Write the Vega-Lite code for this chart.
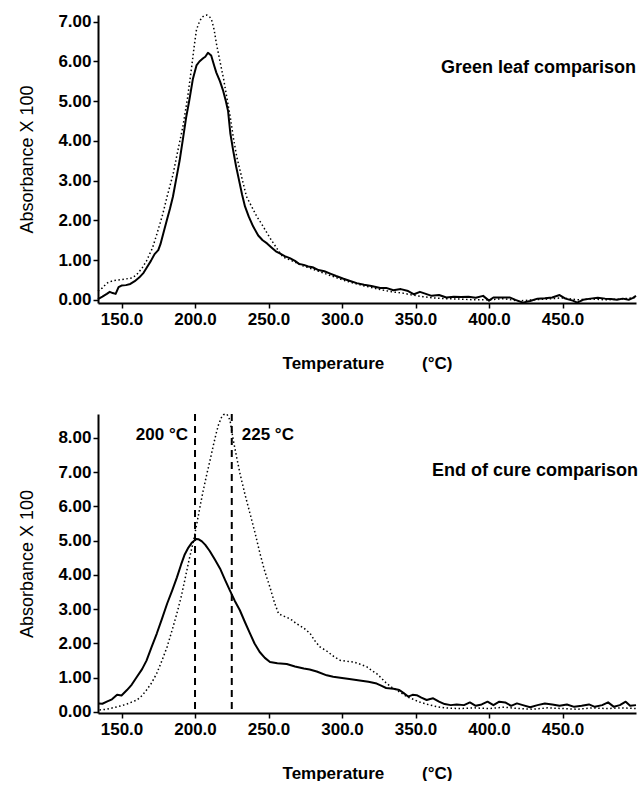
{
  "$schema": "https://vega.github.io/schema/vega-lite/v6.json",
  "background": "white",
  "padding": {"left": 18, "top": 12, "right": 2, "bottom": 0},
  "spacing": 40,
  "config": {
    "font": "Liberation Sans",
    "view": {"stroke": null},
    "text": {"font": "Liberation Sans", "fontWeight": "bold", "fill": "black"},
    "axis": {
      "grid": false,
      "domainColor": "black",
      "domainWidth": 2,
      "tickColor": "black",
      "tickWidth": 1.5,
      "labelColor": "black",
      "titleColor": "black",
      "labelFont": "Liberation Sans",
      "titleFont": "Liberation Sans",
      "labelFontSize": 17,
      "labelFontWeight": "bold",
      "labelOverlap": false
    }
  },
  "datasets": {
    "green": [
      {"trace": "A", "temperature": 134, "absorbance": 0.02},
      {"trace": "A", "temperature": 137, "absorbance": 0.08},
      {"trace": "A", "temperature": 140, "absorbance": 0.15},
      {"trace": "A", "temperature": 142, "absorbance": 0.2},
      {"trace": "A", "temperature": 144, "absorbance": 0.17},
      {"trace": "A", "temperature": 146, "absorbance": 0.15},
      {"trace": "A", "temperature": 148, "absorbance": 0.32},
      {"trace": "A", "temperature": 150, "absorbance": 0.36},
      {"trace": "A", "temperature": 153, "absorbance": 0.37},
      {"trace": "A", "temperature": 156, "absorbance": 0.4},
      {"trace": "A", "temperature": 159, "absorbance": 0.47},
      {"trace": "A", "temperature": 162, "absorbance": 0.56},
      {"trace": "A", "temperature": 165, "absorbance": 0.68},
      {"trace": "A", "temperature": 167, "absorbance": 0.8},
      {"trace": "A", "temperature": 170, "absorbance": 0.98},
      {"trace": "A", "temperature": 172.5, "absorbance": 1.15},
      {"trace": "A", "temperature": 175, "absorbance": 1.25},
      {"trace": "A", "temperature": 176.5, "absorbance": 1.4},
      {"trace": "A", "temperature": 179, "absorbance": 1.75},
      {"trace": "A", "temperature": 181, "absorbance": 2.03},
      {"trace": "A", "temperature": 183, "absorbance": 2.3},
      {"trace": "A", "temperature": 185, "absorbance": 2.6},
      {"trace": "A", "temperature": 187, "absorbance": 3.0},
      {"trace": "A", "temperature": 189.5, "absorbance": 3.5},
      {"trace": "A", "temperature": 192, "absorbance": 4.1},
      {"trace": "A", "temperature": 194, "absorbance": 4.6},
      {"trace": "A", "temperature": 196, "absorbance": 5.0},
      {"trace": "A", "temperature": 198.5, "absorbance": 5.55},
      {"trace": "A", "temperature": 201, "absorbance": 5.9},
      {"trace": "A", "temperature": 203, "absorbance": 6.0},
      {"trace": "A", "temperature": 205.5, "absorbance": 6.08},
      {"trace": "A", "temperature": 207, "absorbance": 6.12},
      {"trace": "A", "temperature": 208.8, "absorbance": 6.22},
      {"trace": "A", "temperature": 211, "absorbance": 6.15},
      {"trace": "A", "temperature": 213, "absorbance": 5.9},
      {"trace": "A", "temperature": 214.5, "absorbance": 5.72},
      {"trace": "A", "temperature": 217, "absorbance": 5.5},
      {"trace": "A", "temperature": 219, "absorbance": 5.28},
      {"trace": "A", "temperature": 221, "absorbance": 5.0},
      {"trace": "A", "temperature": 222.5, "absorbance": 4.75},
      {"trace": "A", "temperature": 224, "absorbance": 4.2},
      {"trace": "A", "temperature": 226, "absorbance": 3.75},
      {"trace": "A", "temperature": 228, "absorbance": 3.35},
      {"trace": "A", "temperature": 230, "absorbance": 3.0},
      {"trace": "A", "temperature": 232, "absorbance": 2.65},
      {"trace": "A", "temperature": 234, "absorbance": 2.35},
      {"trace": "A", "temperature": 236.5, "absorbance": 2.1},
      {"trace": "A", "temperature": 239.5, "absorbance": 1.85},
      {"trace": "A", "temperature": 243, "absorbance": 1.62},
      {"trace": "A", "temperature": 246, "absorbance": 1.5},
      {"trace": "A", "temperature": 249, "absorbance": 1.42},
      {"trace": "A", "temperature": 252, "absorbance": 1.32},
      {"trace": "A", "temperature": 255, "absorbance": 1.22},
      {"trace": "A", "temperature": 258, "absorbance": 1.16},
      {"trace": "A", "temperature": 261, "absorbance": 1.1},
      {"trace": "A", "temperature": 264.5, "absorbance": 1.05},
      {"trace": "A", "temperature": 268, "absorbance": 0.98},
      {"trace": "A", "temperature": 271, "absorbance": 0.9},
      {"trace": "A", "temperature": 274, "absorbance": 0.88},
      {"trace": "A", "temperature": 277, "absorbance": 0.84},
      {"trace": "A", "temperature": 280, "absorbance": 0.82},
      {"trace": "A", "temperature": 284, "absorbance": 0.75},
      {"trace": "A", "temperature": 288, "absorbance": 0.72},
      {"trace": "A", "temperature": 292, "absorbance": 0.66},
      {"trace": "A", "temperature": 296, "absorbance": 0.6},
      {"trace": "A", "temperature": 301, "absorbance": 0.53},
      {"trace": "A", "temperature": 305, "absorbance": 0.48},
      {"trace": "A", "temperature": 310, "absorbance": 0.42},
      {"trace": "A", "temperature": 315, "absorbance": 0.38},
      {"trace": "A", "temperature": 320, "absorbance": 0.35},
      {"trace": "A", "temperature": 326, "absorbance": 0.3},
      {"trace": "A", "temperature": 330, "absorbance": 0.3},
      {"trace": "A", "temperature": 335, "absorbance": 0.24},
      {"trace": "A", "temperature": 340, "absorbance": 0.27},
      {"trace": "A", "temperature": 345, "absorbance": 0.22},
      {"trace": "A", "temperature": 349, "absorbance": 0.14},
      {"trace": "A", "temperature": 353, "absorbance": 0.2},
      {"trace": "A", "temperature": 357, "absorbance": 0.15},
      {"trace": "A", "temperature": 361, "absorbance": 0.1},
      {"trace": "A", "temperature": 366, "absorbance": 0.12},
      {"trace": "A", "temperature": 371, "absorbance": 0.06},
      {"trace": "A", "temperature": 376, "absorbance": 0.08},
      {"trace": "A", "temperature": 381, "absorbance": 0.07},
      {"trace": "A", "temperature": 386, "absorbance": 0.08},
      {"trace": "A", "temperature": 391, "absorbance": 0.05},
      {"trace": "A", "temperature": 396, "absorbance": 0.1},
      {"trace": "A", "temperature": 400, "absorbance": -0.02},
      {"trace": "A", "temperature": 403, "absorbance": 0.06},
      {"trace": "A", "temperature": 408, "absorbance": 0.06},
      {"trace": "A", "temperature": 414, "absorbance": 0.06},
      {"trace": "A", "temperature": 418, "absorbance": 0.0},
      {"trace": "A", "temperature": 423, "absorbance": -0.07},
      {"trace": "A", "temperature": 428, "absorbance": -0.03},
      {"trace": "A", "temperature": 433, "absorbance": 0.03},
      {"trace": "A", "temperature": 438, "absorbance": 0.04},
      {"trace": "A", "temperature": 443, "absorbance": 0.06},
      {"trace": "A", "temperature": 448, "absorbance": 0.12},
      {"trace": "A", "temperature": 452, "absorbance": 0.03},
      {"trace": "A", "temperature": 457, "absorbance": -0.02},
      {"trace": "A", "temperature": 460, "absorbance": -0.07},
      {"trace": "A", "temperature": 464, "absorbance": 0.0},
      {"trace": "A", "temperature": 469, "absorbance": 0.03},
      {"trace": "A", "temperature": 474, "absorbance": 0.05},
      {"trace": "A", "temperature": 479, "absorbance": 0.03},
      {"trace": "A", "temperature": 483, "absorbance": 0.02},
      {"trace": "A", "temperature": 487, "absorbance": 0.0},
      {"trace": "A", "temperature": 491, "absorbance": 0.03},
      {"trace": "A", "temperature": 495, "absorbance": 0.0},
      {"trace": "A", "temperature": 498, "absorbance": 0.05},
      {"trace": "A", "temperature": 500, "absorbance": 0.1},
      {"trace": "B", "temperature": 134, "absorbance": 0.22},
      {"trace": "B", "temperature": 137, "absorbance": 0.3},
      {"trace": "B", "temperature": 140, "absorbance": 0.42},
      {"trace": "B", "temperature": 144, "absorbance": 0.48},
      {"trace": "B", "temperature": 148, "absorbance": 0.5},
      {"trace": "B", "temperature": 152, "absorbance": 0.52},
      {"trace": "B", "temperature": 157, "absorbance": 0.55},
      {"trace": "B", "temperature": 160, "absorbance": 0.62},
      {"trace": "B", "temperature": 164, "absorbance": 0.8},
      {"trace": "B", "temperature": 167, "absorbance": 0.98},
      {"trace": "B", "temperature": 171, "absorbance": 1.3},
      {"trace": "B", "temperature": 174, "absorbance": 1.65},
      {"trace": "B", "temperature": 178, "absorbance": 2.15},
      {"trace": "B", "temperature": 181, "absorbance": 2.6},
      {"trace": "B", "temperature": 185, "absorbance": 3.15},
      {"trace": "B", "temperature": 188, "absorbance": 3.7},
      {"trace": "B", "temperature": 191.7, "absorbance": 4.35},
      {"trace": "B", "temperature": 195, "absorbance": 5.1},
      {"trace": "B", "temperature": 197.7, "absorbance": 5.86},
      {"trace": "B", "temperature": 199.5, "absorbance": 6.4},
      {"trace": "B", "temperature": 201, "absorbance": 6.8},
      {"trace": "B", "temperature": 203, "absorbance": 7.0},
      {"trace": "B", "temperature": 204.5, "absorbance": 7.1},
      {"trace": "B", "temperature": 206, "absorbance": 7.15},
      {"trace": "B", "temperature": 208, "absorbance": 7.17},
      {"trace": "B", "temperature": 210, "absorbance": 7.12},
      {"trace": "B", "temperature": 211.5, "absorbance": 7.02},
      {"trace": "B", "temperature": 213, "absorbance": 6.8},
      {"trace": "B", "temperature": 214.5, "absorbance": 6.46},
      {"trace": "B", "temperature": 217, "absorbance": 6.0},
      {"trace": "B", "temperature": 219.5, "absorbance": 5.55},
      {"trace": "B", "temperature": 221.6, "absorbance": 5.1},
      {"trace": "B", "temperature": 224, "absorbance": 4.6},
      {"trace": "B", "temperature": 226, "absorbance": 4.1},
      {"trace": "B", "temperature": 228.4, "absorbance": 3.6},
      {"trace": "B", "temperature": 231, "absorbance": 3.2},
      {"trace": "B", "temperature": 233, "absorbance": 2.9},
      {"trace": "B", "temperature": 235, "absorbance": 2.6},
      {"trace": "B", "temperature": 238.5, "absorbance": 2.35},
      {"trace": "B", "temperature": 242, "absorbance": 2.1},
      {"trace": "B", "temperature": 245.5, "absorbance": 1.9},
      {"trace": "B", "temperature": 249, "absorbance": 1.68},
      {"trace": "B", "temperature": 252, "absorbance": 1.5},
      {"trace": "B", "temperature": 255.6, "absorbance": 1.3},
      {"trace": "B", "temperature": 259.7, "absorbance": 1.08},
      {"trace": "B", "temperature": 263, "absorbance": 1.03},
      {"trace": "B", "temperature": 268, "absorbance": 0.95},
      {"trace": "B", "temperature": 273, "absorbance": 0.86},
      {"trace": "B", "temperature": 278, "absorbance": 0.8},
      {"trace": "B", "temperature": 284, "absorbance": 0.72},
      {"trace": "B", "temperature": 290, "absorbance": 0.64},
      {"trace": "B", "temperature": 296, "absorbance": 0.56},
      {"trace": "B", "temperature": 302, "absorbance": 0.48},
      {"trace": "B", "temperature": 308, "absorbance": 0.42},
      {"trace": "B", "temperature": 314, "absorbance": 0.36},
      {"trace": "B", "temperature": 320, "absorbance": 0.31},
      {"trace": "B", "temperature": 327, "absorbance": 0.25},
      {"trace": "B", "temperature": 334, "absorbance": 0.2},
      {"trace": "B", "temperature": 341, "absorbance": 0.17},
      {"trace": "B", "temperature": 348, "absorbance": 0.12},
      {"trace": "B", "temperature": 355, "absorbance": 0.08},
      {"trace": "B", "temperature": 362, "absorbance": 0.05},
      {"trace": "B", "temperature": 370, "absorbance": 0.03},
      {"trace": "B", "temperature": 380, "absorbance": 0.02},
      {"trace": "B", "temperature": 390, "absorbance": 0.0},
      {"trace": "B", "temperature": 400, "absorbance": 0.0},
      {"trace": "B", "temperature": 410, "absorbance": 0.03},
      {"trace": "B", "temperature": 420, "absorbance": -0.03},
      {"trace": "B", "temperature": 430, "absorbance": 0.0},
      {"trace": "B", "temperature": 440, "absorbance": 0.02},
      {"trace": "B", "temperature": 450, "absorbance": 0.05},
      {"trace": "B", "temperature": 460, "absorbance": 0.0},
      {"trace": "B", "temperature": 470, "absorbance": 0.02},
      {"trace": "B", "temperature": 480, "absorbance": 0.0},
      {"trace": "B", "temperature": 490, "absorbance": 0.02},
      {"trace": "B", "temperature": 500, "absorbance": 0.06}
    ],
    "cure": [
      {"trace": "A", "temperature": 134.4, "absorbance": 0.25},
      {"trace": "A", "temperature": 137, "absorbance": 0.24},
      {"trace": "A", "temperature": 140, "absorbance": 0.3},
      {"trace": "A", "temperature": 143.5, "absorbance": 0.37},
      {"trace": "A", "temperature": 147, "absorbance": 0.5},
      {"trace": "A", "temperature": 150, "absorbance": 0.48},
      {"trace": "A", "temperature": 153.7, "absorbance": 0.64},
      {"trace": "A", "temperature": 157, "absorbance": 0.8},
      {"trace": "A", "temperature": 160.5, "absorbance": 1.03},
      {"trace": "A", "temperature": 164, "absorbance": 1.25},
      {"trace": "A", "temperature": 167, "absorbance": 1.5},
      {"trace": "A", "temperature": 170.5, "absorbance": 1.9},
      {"trace": "A", "temperature": 174, "absorbance": 2.29},
      {"trace": "A", "temperature": 177.5, "absorbance": 2.72},
      {"trace": "A", "temperature": 181, "absorbance": 3.16},
      {"trace": "A", "temperature": 184.5, "absorbance": 3.55},
      {"trace": "A", "temperature": 187.7, "absorbance": 3.93},
      {"trace": "A", "temperature": 190.5, "absorbance": 4.3},
      {"trace": "A", "temperature": 193, "absorbance": 4.6},
      {"trace": "A", "temperature": 195.5, "absorbance": 4.8},
      {"trace": "A", "temperature": 198, "absorbance": 4.95},
      {"trace": "A", "temperature": 200.8, "absorbance": 5.05},
      {"trace": "A", "temperature": 202.5, "absorbance": 5.04},
      {"trace": "A", "temperature": 204.7, "absorbance": 4.98},
      {"trace": "A", "temperature": 207, "absorbance": 4.88},
      {"trace": "A", "temperature": 210, "absorbance": 4.7},
      {"trace": "A", "temperature": 213.5, "absorbance": 4.45},
      {"trace": "A", "temperature": 217, "absorbance": 4.19},
      {"trace": "A", "temperature": 220.5, "absorbance": 3.85},
      {"trace": "A", "temperature": 223.7, "absorbance": 3.55},
      {"trace": "A", "temperature": 227, "absorbance": 3.25},
      {"trace": "A", "temperature": 230.5, "absorbance": 2.97},
      {"trace": "A", "temperature": 234, "absorbance": 2.62},
      {"trace": "A", "temperature": 237.3, "absorbance": 2.3},
      {"trace": "A", "temperature": 240.5, "absorbance": 2.0},
      {"trace": "A", "temperature": 244, "absorbance": 1.75},
      {"trace": "A", "temperature": 247.5, "absorbance": 1.58},
      {"trace": "A", "temperature": 251, "absorbance": 1.46},
      {"trace": "A", "temperature": 256, "absorbance": 1.42},
      {"trace": "A", "temperature": 262.4, "absorbance": 1.4},
      {"trace": "A", "temperature": 268, "absorbance": 1.33},
      {"trace": "A", "temperature": 274, "absorbance": 1.27},
      {"trace": "A", "temperature": 278, "absorbance": 1.24},
      {"trace": "A", "temperature": 282.8, "absorbance": 1.18},
      {"trace": "A", "temperature": 289.6, "absorbance": 1.07},
      {"trace": "A", "temperature": 294, "absorbance": 1.03},
      {"trace": "A", "temperature": 300, "absorbance": 0.99},
      {"trace": "A", "temperature": 305, "absorbance": 0.96},
      {"trace": "A", "temperature": 312, "absorbance": 0.92},
      {"trace": "A", "temperature": 318, "absorbance": 0.88},
      {"trace": "A", "temperature": 323.6, "absorbance": 0.83},
      {"trace": "A", "temperature": 327, "absorbance": 0.76},
      {"trace": "A", "temperature": 330, "absorbance": 0.7},
      {"trace": "A", "temperature": 335, "absorbance": 0.68},
      {"trace": "A", "temperature": 339, "absorbance": 0.64},
      {"trace": "A", "temperature": 342, "absorbance": 0.55},
      {"trace": "A", "temperature": 345, "absorbance": 0.45},
      {"trace": "A", "temperature": 348, "absorbance": 0.5},
      {"trace": "A", "temperature": 350.8, "absorbance": 0.49},
      {"trace": "A", "temperature": 354, "absorbance": 0.42},
      {"trace": "A", "temperature": 357.6, "absorbance": 0.35},
      {"trace": "A", "temperature": 360, "absorbance": 0.38},
      {"trace": "A", "temperature": 362, "absorbance": 0.4},
      {"trace": "A", "temperature": 366, "absorbance": 0.3},
      {"trace": "A", "temperature": 369.8, "absorbance": 0.23},
      {"trace": "A", "temperature": 374, "absorbance": 0.2},
      {"trace": "A", "temperature": 378, "absorbance": 0.22},
      {"trace": "A", "temperature": 383, "absorbance": 0.2},
      {"trace": "A", "temperature": 387, "absorbance": 0.28},
      {"trace": "A", "temperature": 391, "absorbance": 0.18},
      {"trace": "A", "temperature": 395, "absorbance": 0.22},
      {"trace": "A", "temperature": 399, "absorbance": 0.3},
      {"trace": "A", "temperature": 403, "absorbance": 0.2},
      {"trace": "A", "temperature": 407, "absorbance": 0.3},
      {"trace": "A", "temperature": 411, "absorbance": 0.28},
      {"trace": "A", "temperature": 415, "absorbance": 0.18},
      {"trace": "A", "temperature": 419, "absorbance": 0.25},
      {"trace": "A", "temperature": 423, "absorbance": 0.2},
      {"trace": "A", "temperature": 428, "absorbance": 0.14},
      {"trace": "A", "temperature": 433, "absorbance": 0.2},
      {"trace": "A", "temperature": 438, "absorbance": 0.25},
      {"trace": "A", "temperature": 443, "absorbance": 0.22},
      {"trace": "A", "temperature": 448, "absorbance": 0.18},
      {"trace": "A", "temperature": 453, "absorbance": 0.22},
      {"trace": "A", "temperature": 458, "absorbance": 0.15},
      {"trace": "A", "temperature": 463, "absorbance": 0.18},
      {"trace": "A", "temperature": 468, "absorbance": 0.22},
      {"trace": "A", "temperature": 472, "absorbance": 0.15},
      {"trace": "A", "temperature": 477, "absorbance": 0.2},
      {"trace": "A", "temperature": 481, "absorbance": 0.28},
      {"trace": "A", "temperature": 485, "absorbance": 0.15},
      {"trace": "A", "temperature": 489, "absorbance": 0.2},
      {"trace": "A", "temperature": 493, "absorbance": 0.3},
      {"trace": "A", "temperature": 496, "absorbance": 0.18},
      {"trace": "A", "temperature": 500, "absorbance": 0.2},
      {"trace": "B", "temperature": 135, "absorbance": 0.06},
      {"trace": "B", "temperature": 140, "absorbance": 0.08},
      {"trace": "B", "temperature": 147, "absorbance": 0.15},
      {"trace": "B", "temperature": 153, "absorbance": 0.22},
      {"trace": "B", "temperature": 160.5, "absorbance": 0.35},
      {"trace": "B", "temperature": 164, "absorbance": 0.48},
      {"trace": "B", "temperature": 167, "absorbance": 0.64},
      {"trace": "B", "temperature": 170.5, "absorbance": 0.85},
      {"trace": "B", "temperature": 174, "absorbance": 1.13},
      {"trace": "B", "temperature": 177.5, "absorbance": 1.5},
      {"trace": "B", "temperature": 181, "absorbance": 1.9},
      {"trace": "B", "temperature": 184.5, "absorbance": 2.4},
      {"trace": "B", "temperature": 187.7, "absorbance": 2.88},
      {"trace": "B", "temperature": 190.5, "absorbance": 3.35},
      {"trace": "B", "temperature": 193, "absorbance": 3.84},
      {"trace": "B", "temperature": 196, "absorbance": 4.45},
      {"trace": "B", "temperature": 199, "absorbance": 5.0},
      {"trace": "B", "temperature": 201, "absorbance": 5.45},
      {"trace": "B", "temperature": 203.3, "absorbance": 5.97},
      {"trace": "B", "temperature": 205.5, "absorbance": 6.45},
      {"trace": "B", "temperature": 208, "absorbance": 6.94},
      {"trace": "B", "temperature": 210.5, "absorbance": 7.4},
      {"trace": "B", "temperature": 212.6, "absorbance": 7.81},
      {"trace": "B", "temperature": 214.5, "absorbance": 8.15},
      {"trace": "B", "temperature": 216, "absorbance": 8.39},
      {"trace": "B", "temperature": 218, "absorbance": 8.6},
      {"trace": "B", "temperature": 219.4, "absorbance": 8.68},
      {"trace": "B", "temperature": 220.5, "absorbance": 8.7},
      {"trace": "B", "temperature": 221.7, "absorbance": 8.69},
      {"trace": "B", "temperature": 223, "absorbance": 8.6},
      {"trace": "B", "temperature": 223.9, "absorbance": 8.49},
      {"trace": "B", "temperature": 225, "absorbance": 8.2},
      {"trace": "B", "temperature": 226.2, "absorbance": 7.9},
      {"trace": "B", "temperature": 228.5, "absorbance": 7.4},
      {"trace": "B", "temperature": 230.7, "absorbance": 6.94},
      {"trace": "B", "temperature": 234, "absorbance": 6.35},
      {"trace": "B", "temperature": 237.5, "absorbance": 5.78},
      {"trace": "B", "temperature": 241, "absorbance": 5.2},
      {"trace": "B", "temperature": 244.3, "absorbance": 4.61},
      {"trace": "B", "temperature": 247.5, "absorbance": 4.1},
      {"trace": "B", "temperature": 251, "absorbance": 3.64},
      {"trace": "B", "temperature": 254, "absorbance": 3.2},
      {"trace": "B", "temperature": 256.8, "absorbance": 2.87},
      {"trace": "B", "temperature": 260, "absorbance": 2.8},
      {"trace": "B", "temperature": 262.4, "absorbance": 2.77},
      {"trace": "B", "temperature": 266, "absorbance": 2.68},
      {"trace": "B", "temperature": 269, "absorbance": 2.58},
      {"trace": "B", "temperature": 274, "absorbance": 2.45},
      {"trace": "B", "temperature": 278.3, "absorbance": 2.29},
      {"trace": "B", "temperature": 282, "absorbance": 2.05},
      {"trace": "B", "temperature": 285, "absorbance": 1.9},
      {"trace": "B", "temperature": 289.6, "absorbance": 1.78},
      {"trace": "B", "temperature": 292, "absorbance": 1.7},
      {"trace": "B", "temperature": 295, "absorbance": 1.6},
      {"trace": "B", "temperature": 298.7, "absorbance": 1.51},
      {"trace": "B", "temperature": 303, "absorbance": 1.48},
      {"trace": "B", "temperature": 307.8, "absorbance": 1.46},
      {"trace": "B", "temperature": 312, "absorbance": 1.4},
      {"trace": "B", "temperature": 316.8, "absorbance": 1.32},
      {"trace": "B", "temperature": 320, "absorbance": 1.22},
      {"trace": "B", "temperature": 323.6, "absorbance": 1.12},
      {"trace": "B", "temperature": 327, "absorbance": 0.98},
      {"trace": "B", "temperature": 330.4, "absorbance": 0.83},
      {"trace": "B", "temperature": 334, "absorbance": 0.72},
      {"trace": "B", "temperature": 337.2, "absorbance": 0.64},
      {"trace": "B", "temperature": 340, "absorbance": 0.56},
      {"trace": "B", "temperature": 344, "absorbance": 0.45},
      {"trace": "B", "temperature": 348, "absorbance": 0.38},
      {"trace": "B", "temperature": 352, "absorbance": 0.3},
      {"trace": "B", "temperature": 356, "absorbance": 0.25},
      {"trace": "B", "temperature": 360, "absorbance": 0.2},
      {"trace": "B", "temperature": 365, "absorbance": 0.15},
      {"trace": "B", "temperature": 370, "absorbance": 0.12},
      {"trace": "B", "temperature": 380, "absorbance": 0.1},
      {"trace": "B", "temperature": 390, "absorbance": 0.12},
      {"trace": "B", "temperature": 400, "absorbance": 0.1},
      {"trace": "B", "temperature": 410, "absorbance": 0.14},
      {"trace": "B", "temperature": 420, "absorbance": 0.1},
      {"trace": "B", "temperature": 430, "absorbance": 0.08},
      {"trace": "B", "temperature": 440, "absorbance": 0.12},
      {"trace": "B", "temperature": 450, "absorbance": 0.1},
      {"trace": "B", "temperature": 460, "absorbance": 0.08},
      {"trace": "B", "temperature": 470, "absorbance": 0.12},
      {"trace": "B", "temperature": 480, "absorbance": 0.1},
      {"trace": "B", "temperature": 490, "absorbance": 0.12},
      {"trace": "B", "temperature": 500, "absorbance": 0.1}
    ],
    "peaks": [
      {"temperature": 200, "label": "200 °C"},
      {"temperature": 225, "label": "225 °C"}
    ],
    "greenCaption": [{"temperature": 500, "caption": "Green leaf comparison"}],
    "cureCaption": [{"temperature": 500, "caption": "End of cure comparison"}]
  },
  "vconcat": [
    {
      "width": 538,
      "height": 288,
      "layer": [
        {
          "data": {"name": "green"},
          "transform": [{"filter": "datum.trace === 'A'"}],
          "mark": {"type": "line", "color": "black", "strokeWidth": 2, "strokeJoin": "round"},
          "encoding": {
            "x": {
              "field": "temperature",
              "type": "quantitative",
              "scale": {"domain": [134, 500], "nice": false, "zero": false},
              "axis": {"values": [150, 200, 250, 300, 350, 400, 450], "format": ".1f", "labelOverlap": false, "tickSize": 5, "labelPadding": 3, "labelFlush": false, "title": "Temperature\u00a0\u00a0\u00a0\u00a0\u00a0\u00a0\u00a0\u00a0(°C)", "titleFontSize": 17, "titleFontWeight": "bold", "titlePadding": 28}
            },
            "y": {
              "field": "absorbance",
              "type": "quantitative",
              "scale": {"domain": [-0.08, 7.17], "nice": false, "zero": false},
              "axis": {"values": [0, 1, 2, 3, 4, 5, 6, 7], "format": ".2f", "labelOverlap": false, "tickSize": 5, "labelPadding": 2, "labelFlush": false, "title": "Absorbance X 100", "titleFontSize": 18, "titleFontWeight": "normal", "titlePadding": 21}
            }
          }
        },
        {
          "data": {"name": "green"},
          "transform": [{"filter": "datum.trace === 'B'"}],
          "mark": {"type": "line", "color": "black", "strokeWidth": 1.5, "strokeDash": [1.5, 2.5]},
          "encoding": {
            "x": {
              "field": "temperature",
              "type": "quantitative",
              "axis": {"values": [150, 200, 250, 300, 350, 400, 450], "format": ".1f", "labelOverlap": false, "tickSize": 5, "labelPadding": 3, "labelFlush": false, "title": "Temperature\u00a0\u00a0\u00a0\u00a0\u00a0\u00a0\u00a0\u00a0(°C)", "titleFontSize": 17, "titleFontWeight": "bold", "titlePadding": 28}
            },
            "y": {
              "field": "absorbance",
              "type": "quantitative",
              "axis": {"values": [0, 1, 2, 3, 4, 5, 6, 7], "format": ".2f", "labelOverlap": false, "tickSize": 5, "labelPadding": 2, "labelFlush": false, "title": "Absorbance X 100", "titleFontSize": 18, "titleFontWeight": "normal", "titlePadding": 21}
            }
          }
        },
        {
          "data": {"name": "greenCaption"},
          "mark": {"type": "text", "align": "right", "baseline": "middle", "fontSize": 18},
          "encoding": {
            "x": {"field": "temperature", "type": "quantitative"},
            "y": {"datum": 5.83},
            "text": {"field": "caption", "type": "nominal"}
          }
        }
      ]
    },
    {
      "width": 538,
      "height": 299,
      "layer": [
        {
          "data": {"name": "peaks"},
          "mark": {"type": "rule", "color": "black", "strokeWidth": 2, "strokeDash": [7, 5]},
          "encoding": {
            "x": {
              "field": "temperature",
              "type": "quantitative",
              "scale": {"domain": [134, 500], "nice": false, "zero": false},
              "axis": {"values": [150, 200, 250, 300, 350, 400, 450], "format": ".1f", "labelOverlap": false, "tickSize": 5, "labelPadding": 3, "labelFlush": false, "title": "Temperature\u00a0\u00a0\u00a0\u00a0\u00a0\u00a0\u00a0\u00a0(°C)", "titleFontSize": 17, "titleFontWeight": "bold", "titlePadding": 28}
            }
          }
        },
        {
          "data": {"name": "cure"},
          "transform": [{"filter": "datum.trace === 'A'"}],
          "mark": {"type": "line", "color": "black", "strokeWidth": 2, "strokeJoin": "round"},
          "encoding": {
            "x": {"field": "temperature", "type": "quantitative"},
            "y": {
              "field": "absorbance",
              "type": "quantitative",
              "scale": {"domain": [-0.03, 8.7], "nice": false, "zero": false},
              "axis": {"values": [0, 1, 2, 3, 4, 5, 6, 7, 8], "format": ".2f", "labelOverlap": false, "tickSize": 5, "labelPadding": 2, "labelFlush": false, "title": "Absorbance X 100", "titleFontSize": 18, "titleFontWeight": "normal", "titlePadding": 21}
            }
          }
        },
        {
          "data": {"name": "cure"},
          "transform": [{"filter": "datum.trace === 'B'"}],
          "mark": {"type": "line", "color": "black", "strokeWidth": 1.5, "strokeDash": [1.5, 2.5]},
          "encoding": {
            "x": {"field": "temperature", "type": "quantitative"},
            "y": {
              "field": "absorbance",
              "type": "quantitative",
              "axis": {"values": [0, 1, 2, 3, 4, 5, 6, 7, 8], "format": ".2f", "labelOverlap": false, "tickSize": 5, "labelPadding": 2, "labelFlush": false, "title": "Absorbance X 100", "titleFontSize": 18, "titleFontWeight": "normal", "titlePadding": 21}
            }
          }
        },
        {
          "data": {"name": "peaks"},
          "transform": [{"filter": "datum.temperature === 200"}],
          "mark": {"type": "text", "align": "right", "baseline": "middle", "dx": -7, "fontSize": 17},
          "encoding": {
            "x": {"field": "temperature", "type": "quantitative"},
            "y": {
              "datum": 8.1,
              "axis": {"values": [0, 1, 2, 3, 4, 5, 6, 7, 8], "format": ".2f", "labelOverlap": false, "tickSize": 5, "labelPadding": 2, "labelFlush": false, "title": "Absorbance X 100", "titleFontSize": 18, "titleFontWeight": "normal", "titlePadding": 21}
            },
            "text": {"field": "label", "type": "nominal"}
          }
        },
        {
          "data": {"name": "peaks"},
          "transform": [{"filter": "datum.temperature === 225"}],
          "mark": {"type": "text", "align": "left", "baseline": "middle", "dx": 10, "fontSize": 17},
          "encoding": {
            "x": {"field": "temperature", "type": "quantitative"},
            "y": {
              "datum": 8.1,
              "axis": {"values": [0, 1, 2, 3, 4, 5, 6, 7, 8], "format": ".2f", "labelOverlap": false, "tickSize": 5, "labelPadding": 2, "labelFlush": false, "title": "Absorbance X 100", "titleFontSize": 18, "titleFontWeight": "normal", "titlePadding": 21}
            },
            "text": {"field": "label", "type": "nominal"}
          }
        },
        {
          "data": {"name": "cureCaption"},
          "mark": {"type": "text", "align": "right", "baseline": "middle", "dx": 2, "fontSize": 18},
          "encoding": {
            "x": {"field": "temperature", "type": "quantitative"},
            "y": {
              "datum": 7.03,
              "axis": {"values": [0, 1, 2, 3, 4, 5, 6, 7, 8], "format": ".2f", "labelOverlap": false, "tickSize": 5, "labelPadding": 2, "labelFlush": false, "title": "Absorbance X 100", "titleFontSize": 18, "titleFontWeight": "normal", "titlePadding": 21}
            },
            "text": {"field": "caption", "type": "nominal"}
          }
        }
      ]
    }
  ]
}
